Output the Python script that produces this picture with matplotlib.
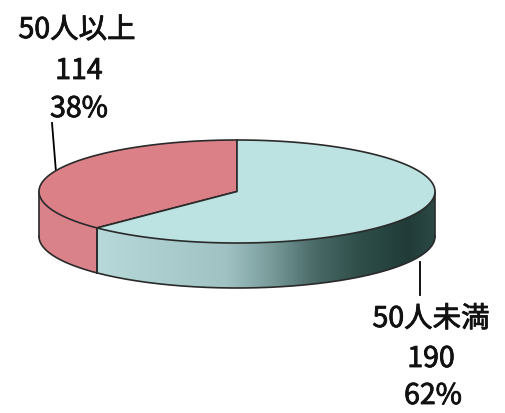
import numpy as np
import matplotlib.pyplot as plt
import matplotlib.patheffects as pe
from matplotlib.patches import Polygon
from matplotlib.colors import LinearSegmentedColormap

plt.rcParams['font.family'] = ['Noto Sans CJK JP', 'DejaVu Sans']

labels = ["50人以上", "50人未満"]
counts = [114, 190]
percents = ["38%", "62%"]

# ellipse geometry in pixels
cx, cy = 237, 191.5
a, b = 198, 51.5
depth = 45

top_colors = ["#dc8088", "#bde2e2"]
pink_side = "#d9828a"
side_cmap = LinearSegmentedColormap.from_list(
    "side", [(0.0, "#b7d9da"), (0.38, "#a0c2c3"), (0.52, "#779a99"),
             (0.64, "#4a6b68"), (0.78, "#2e4d49"), (0.92, "#213c38"),
             (1.0, "#2b4945")])

fig = plt.figure(figsize=(5.06, 4.13), dpi=100)
ax = fig.add_axes([0, 0, 1, 1])
ax.set_xlim(0, 506)
ax.set_ylim(413, 0)
ax.axis("off")


def pt(t, dy=0):
    return cx + a * np.cos(t), cy - b * np.sin(t) + dy


total = sum(counts)
start = np.pi / 2
bounds = [start]
for c in counts:
    bounds.append(bounds[-1] + 2 * np.pi * c / total)

# side walls (front half only: angles 180..360 deg)
edge = "#2a2a2a"
for i in range(len(counts)):
    t0 = max(bounds[i], np.pi)
    t1 = min(bounds[i + 1], 2 * np.pi)
    if t1 <= t0:
        continue
    ts = np.linspace(t0, t1, 150)
    xs, ys = pt(ts)
    poly = list(zip(xs, ys)) + list(zip(xs[::-1], ys[::-1] + depth))
    if i == 0:
        ax.add_patch(Polygon(poly, closed=True, fc=pink_side, ec="none"))
    else:
        patch = Polygon(poly, closed=True, fc="none", ec="none")
        ax.add_patch(patch)
        grad = np.linspace(0, 1, 400).reshape(1, -1)
        im = ax.imshow(grad, cmap=side_cmap, aspect="auto",
                       extent=(xs.min(), xs.max(), ys.max() + depth, ys.min()),
                       interpolation="bilinear", zorder=1)
        im.set_clip_path(patch)
    # outlines
    ax.plot(xs, ys + depth, color=edge, lw=1.2, zorder=2)
    for t in (t0, t1):
        x, y = pt(t)
        ax.plot([x, x], [y, y + depth], color=edge, lw=1.2, zorder=2)

# top faces
for i in range(len(counts)):
    ts = np.linspace(bounds[i], bounds[i + 1], 200)
    xs, ys = pt(ts)
    poly = [(cx, cy)] + list(zip(xs, ys))
    ax.add_patch(Polygon(poly, closed=True, fc=top_colors[i], ec=edge, lw=1.2, zorder=3))

ax.set_xlim(0, 506)
ax.set_ylim(413, 0)

# labels and leader lines
ax.plot([52, 56], [123, 172], color="black", lw=1.3)
ax.plot([420, 420], [262, 295], color="black", lw=1.3)

fs = 20.5
kw = dict(fontsize=fs, ha="center", va="center", color="#111111",
          path_effects=[pe.withStroke(linewidth=0.6, foreground="#111111")])
ax.text(77, 30, labels[0], **kw)
ax.text(79, 71, str(counts[0]), **kw)
ax.text(79, 109, percents[0], **kw)

ax.text(431, 319, labels[1], **kw)
ax.text(431, 359, str(counts[1]), **kw)
ax.text(433, 396, percents[1], **kw)

fig.savefig("out.png", dpi=100, facecolor="white")
